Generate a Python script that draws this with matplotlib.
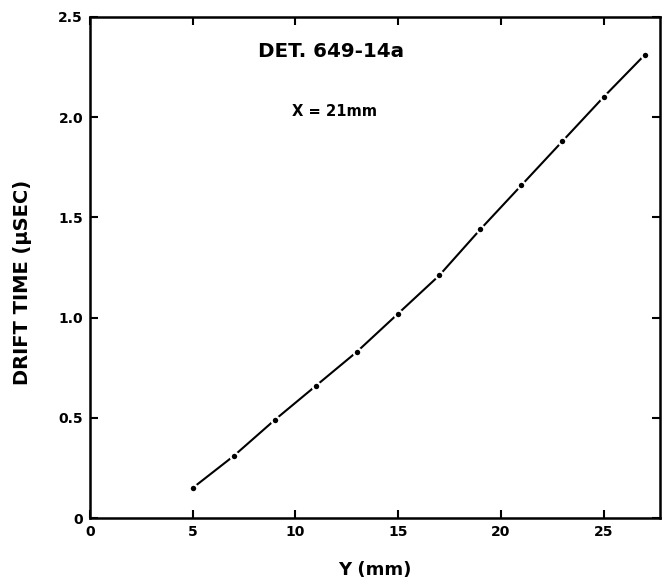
import numpy as np
import matplotlib.pyplot as plt

# drift time vs Y position, DET. 649-14a at X = 21mm
y_pos = [5, 7, 9, 11, 13, 15, 17, 19, 21, 23, 25, 27]
drift_time = [0.15, 0.31, 0.49, 0.66, 0.83, 1.02, 1.21, 1.44, 1.66, 1.88, 2.10, 2.31]

xticks = [0, 5, 10, 15, 20, 25]
yticks = [0, 0.5, 1.0, 1.5, 2.0, 2.5]
yticklabels = ["0", "0.5", "1.0", "1.5", "2.0", "2.5"]

plt.rcParams['font.family'] = ['DejaVu Sans']
plt.rcParams['font.weight'] = 'bold'

fig = plt.figure(figsize=(6.62, 5.84), dpi=100)
ax = fig.add_axes([0.136, 0.113, 0.861, 0.858])

ax.plot(y_pos, drift_time, color="black", lw=1.5, marker="o", ms=5.5,
        mfc="black", mec="white", mew=1.6)

ax.set_xlim(0, 27.75)
ax.set_ylim(0, 2.5)
ax.set_xticks(xticks)
ax.set_xticklabels([str(t) for t in xticks])
ax.set_yticks(yticks)
ax.set_yticklabels(yticklabels)

ax.tick_params(direction="in", length=6, width=1.5, labelsize=10,
               top=True, right=True, pad=5)
for s in ax.spines.values():
    s.set_linewidth(1.8)

ax.set_xlabel("Y (mm)", fontsize=13, fontweight="bold", labelpad=16)
ax.set_ylabel("DRIFT TIME (\u03bcSEC)", fontsize=14, fontweight="bold")
ax.yaxis.set_label_coords(-0.102, 0.47)

ax.text(8.2, 2.33, "DET. 649-14a", fontsize=14.3, fontweight="bold", va="center")
ax.text(9.83, 2.03, "X = 21mm", fontsize=10.6, fontweight="bold", va="center")

fig.savefig("out.png", dpi=100)
